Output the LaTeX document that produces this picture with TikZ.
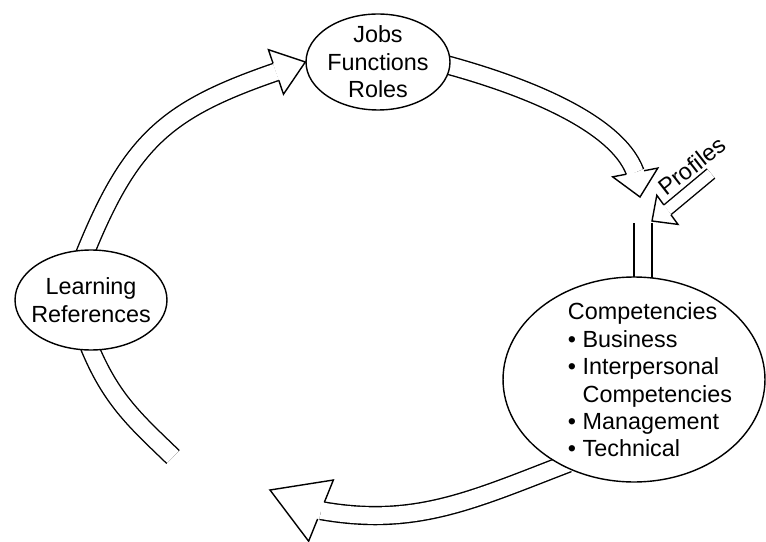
\documentclass[tikz,border=0pt]{standalone}
\usepackage{fontspec}
\setmainfont{Liberation Sans}
\usetikzlibrary{shapes.geometric,backgrounds}
\def\hollowhead(#1)(#2:#3:#4:#5){\filldraw[fill=white, line width=0.8pt, shift={(#1)}, rotate=#2] (-#3,#5) -- (-#3,#4) -- (0,0) -- (-#3,-#4) -- (-#3,-#5);}
\tikzset{
	lbl/.style={font=\fontsize{13.3}{15.6}\selectfont},
	bubble/.style={lbl, ellipse, draw, fill=white, line width=0.8pt, inner xsep=-4pt, inner ysep=-6pt, align=center},
	shaft/.style={draw, line width=0.8pt, double=white, double distance=9.4pt},
	thinshaft/.style={shaft, double distance=6pt}
}

\begin{document}
\begin{tikzpicture}[x=0.02cm, y=0.02cm]
	%%%%% START %%%%%
	\useasboundingbox (0,0) rectangle (766,541);
	
	\node[bubble, minimum width=2.88cm, minimum height=1.92cm] (jobs) at (378,479) {Jobs\\Functions\\Roles};
	\node[bubble, minimum width=3.04cm, minimum height=2cm] (learn) at (91,241) {Learning\\References};
	\node[bubble, minimum width=5.24cm, minimum height=4.1cm] (comp) at (634,161.5) {};
	\node[lbl, align=left] (complist) at (650,161) {Competencies\\\textbullet\ Business\\\textbullet\ Interpersonal\\\phantom{\textbullet\ }Competencies\\\textbullet\ Management\\\textbullet\ Technical};
	\node[lbl, rotate=38] (profiles) at (692,375) {Profiles};
	
	\coordinate (tipB) at (640,344);
	\coordinate (merge) at (643,318);
	\coordinate (tipP) at (652,320);
	\coordinate (profstart) at (711,367.5);
	\coordinate (tipD) at (270,51);
	\coordinate (gapend) at (173,84);
	\path (jobs.west) ++(198.7:31) coordinate (baseA);
	\path (tipB) ++(101:25) coordinate (baseB);
	\path (tipP) ++(36:19) coordinate (baseP);
	\path (tipD) ++(338:55) coordinate (baseD);
	
	% shafts go under the bubbles
	\begin{scope}[on background layer]
		\draw[shaft, shorten <=-4pt] (learn.95) to[out=68, in=199, looseness=1.15] (baseA);
		\draw[shaft, shorten <=-4pt] (jobs.357) to[out=-15, in=110, looseness=0.7] (baseB);
		\draw[thinshaft] (profstart) -- (baseP);
		\draw[shaft, shorten >=-4pt] (merge) -- (merge |- comp.north);
		\draw[shaft, shorten <=-4pt] (comp.230) to[out=201, in=350] (baseD);
		\draw[shaft, shorten <=-4pt] (learn.south) to[out=-68, in=136] (gapend);
	\end{scope}
	
	\hollowhead(jobs.west)(18.7:31:23.5:9);
	\hollowhead(tipB)(281:25:23:9);
	\hollowhead(tipP)(216:19:18:6);
	\hollowhead(tipD)(158:55:33:9);
	
	%%%%% END %%%%%
\end{tikzpicture}
\end{document}
